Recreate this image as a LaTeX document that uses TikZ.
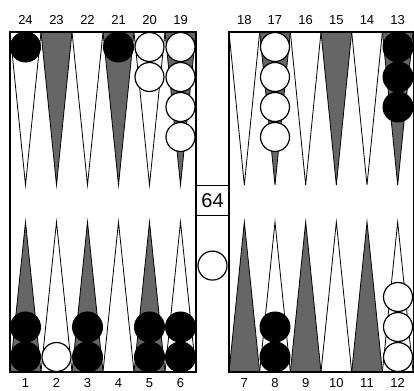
\documentclass[tikz,border=0pt]{standalone}
\usepackage{fontspec}
\setmainfont{Liberation Sans}
\usetikzlibrary{positioning}

\tikzset{
  pt light/.style={draw=black, line width=0.8pt, fill=white},
  pt dark/.style={draw=black, line width=0.8pt, fill=black!60},
  chk black/.style={circle, draw=black, fill=black, minimum size=30pt, inner sep=0pt, line width=1pt},
  chk white/.style={circle, draw=black, fill=white, minimum size=29pt, inner sep=0pt, line width=1.2pt},
  ptlabel/.style={font=\fontsize{13}{13}\selectfont, inner sep=0pt},
  frame/.style={draw=black, line width=1.3pt}
}

\begin{document}
\begin{tikzpicture}[x=1pt,y=1pt]
        \useasboundingbox (0,0) rectangle (414,390);

        % 1. Points (left half: x from 10, right half: x from 229)
        \foreach \k in {0,...,5}{
            \pgfmathsetmacro{\xl}{10+31*\k}
            \pgfmathsetmacro{\xr}{229+30.67*\k}
            \ifodd\k
                \draw[pt dark]  (\xl,358) -- (\xl+15.5,205) -- (\xl+31,358) -- cycle;
                \draw[pt dark]  (\xr,358) -- (\xr+15.33,205) -- (\xr+30.67,358) -- cycle;
                \draw[pt light] (\xl,18) -- (\xl+15.5,168) -- (\xl+31,18) -- cycle;
                \draw[pt light] (\xr,18) -- (\xr+15.33,168) -- (\xr+30.67,18) -- cycle;
            \else
                \draw[pt light] (\xl,358) -- (\xl+15.5,205) -- (\xl+31,358) -- cycle;
                \draw[pt light] (\xr,358) -- (\xr+15.33,205) -- (\xr+30.67,358) -- cycle;
                \draw[pt dark]  (\xl,18) -- (\xl+15.5,168) -- (\xl+31,18) -- cycle;
                \draw[pt dark]  (\xr,18) -- (\xr+15.33,168) -- (\xr+30.67,18) -- cycle;
            \fi
        }

        % 2. Board frame and bar
        \draw[frame] (10,18) rectangle (196,358);
        \draw[frame] (229,18) rectangle (413.4,358);

        % 3. Point numbers
        \foreach \k in {0,...,5}{
            \pgfmathtruncatemacro{\ntl}{24-\k}
            \pgfmathtruncatemacro{\ntr}{18-\k}
            \pgfmathtruncatemacro{\nbl}{1+\k}
            \pgfmathtruncatemacro{\nbr}{7+\k}
            \node[ptlabel] (lbl\ntl) at (25.5+31*\k,370) {\ntl};
            \node[ptlabel] (lbl\ntr) at (244.3+30.67*\k,370) {\ntr};
            \node[ptlabel] (lbl\nbl) at (25.5+31*\k,7) {\nbl};
            \node[ptlabel] (lbl\nbr) at (244.3+30.67*\k,7) {\nbr};
        }

        % 4. Checkers on the top points (point/x/count/colour)
        \foreach \p/\x/\n/\c in {24/25.5/1/black, 21/118.5/1/black, 20/149.5/2/white, 19/180.5/4/white,
                                17/275/4/white, 13/398/3/black}{
            \foreach \j in {1,...,\n}{
                \node[chk \c] (c\p-\j) at (\x,373-30*\j) {};
            }
        }

        % 5. Checkers on the bottom points
        \foreach \p/\x/\n/\c in {1/25.5/2/black, 2/56.5/1/white, 3/87.5/2/black, 5/149.5/2/black,
                                6/180.5/2/black, 8/275/2/black, 12/398/3/white}{
            \foreach \j in {1,...,\n}{
                \node[chk \c] (c\p-\j) at (\x,3+30*\j) {};
            }
        }

        % 6. Doubling cube and checker on the bar
        \node[draw, line width=1pt, minimum width=33pt, minimum height=30pt, inner sep=0pt,
              font=\fontsize{20}{20}\selectfont] (cube) at (212.5,189) {64};
        \node[chk white, below=34pt of cube] (barchk) {};

\end{tikzpicture}
\end{document}
